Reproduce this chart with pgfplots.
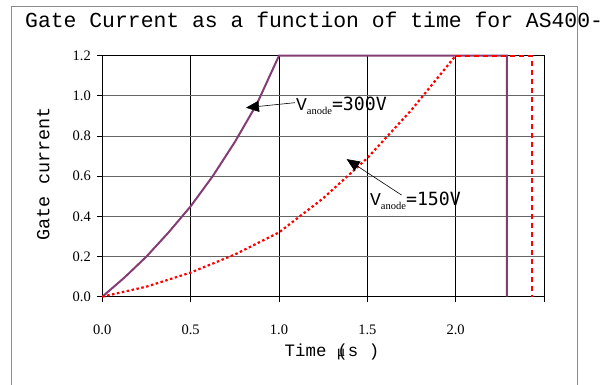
\documentclass[border=0pt]{standalone}
\usepackage{fontspec}
\usepackage{pgfplots}
\pgfplotsset{compat=1.18}
\usetikzlibrary{arrows.meta}
\setmainfont{Liberation Serif}
\newfontfamily\mono{Liberation Mono}
\newfontfamily\dmono{DejaVu Sans Mono}
\definecolor{plum}{HTML}{843C74}
\definecolor{framegray}{HTML}{8C8C8C}

% V_anode label
\newcommand{\vanode}[1]{{\mono\fontsize{18}{18}\selectfont V}\raisebox{-4.5pt}{\fontsize{10.5}{10.5}\selectfont anode}{\dmono\fontsize{18.2}{18.2}\selectfont =#1V}}

\begin{document}
\begin{tikzpicture}[x=1pt,y=1pt]
\path[use as bounding box] (0,0) rectangle (606,385);
\draw[framegray, line width=1pt] (11,-20) rectangle (577,378);
\node[anchor=base west, inner sep=0pt, font=\mono\fontsize{21.4}{21.4}\selectfont]
  at (25,357) {Gate Current as a function of time for AS400-};

\begin{axis}[
    scale only axis,
    width=441.7pt, height=241pt,
    at={(102.3pt,88.3pt)}, anchor=south west,
    xmin=0, xmax=2.5, ymin=0, ymax=1.2,
    xtick={0,0.5,1,1.5,2,2.5},
    xticklabels={0.0,0.5,1.0,1.5,2.0,},
    ytick={0,0.2,...,1.2},
    yticklabel style={/pgf/number format/fixed, /pgf/number format/fixed zerofill,
      /pgf/number format/precision=1, xshift=-3pt},
    /pgf/number format/assume math mode=true,
    tick label style={font=\fontsize{14.5}{14.5}\selectfont},
    xticklabel style={yshift=-20pt},
    tick align=outside,
    major tick length=5pt,
    xtick pos=bottom, ytick pos=left,
    grid=major,
    major x grid style={black, line width=0.8pt},
    major y grid style={black!60, line width=0.8pt},
    axis line style={black, line width=1pt},
    tick style={black, line width=0.8pt},
    clip=false,
    xlabel={\mono\fontsize{17.4}{17.4}\selectfont Time~{\rmfamily\fontsize{16}{16}\selectfont μ}\kern-8pt(s~)},
    xlabel style={at={(axis description cs:0.52,0)}, anchor=base, yshift=-60pt},
    ylabel={\mono\fontsize{18.5}{18.5}\selectfont Gate current},
    ylabel style={at={(axis description cs:0,0.51)}, anchor=center, yshift=59pt},
]
% V_anode = 300 V
\addplot[plum, line width=2pt] coordinates {
  (0,0) (0.125,0.095) (0.25,0.2) (0.375,0.32) (0.5,0.45) (0.625,0.6)
  (0.75,0.77) (0.875,0.96) (1.0,1.2) (2.29,1.2) (2.29,0)
};
% V_anode = 150 V
\addplot[red, line width=2.2pt, dash pattern=on 2.5pt off 2.5pt] coordinates {
  (0,0) (0.25,0.05) (0.5,0.12) (0.75,0.21) (1.0,0.32) (1.25,0.49)
  (1.5,0.69) (1.75,0.93) (2.0,1.2)
};
\addplot[red, line width=2.2pt, dash pattern=on 5pt off 4pt] coordinates {
  (2.0,1.2) (2.43,1.2) (2.43,0)
};

\draw[black, line width=0.6pt, -{Triangle[length=13pt,width=11pt]}]
  (axis cs:1.09,0.966) -- (axis cs:0.813,0.941);
\node[anchor=west, inner sep=0pt] at (axis cs:1.096,0.95) {\vanode{300}};
\draw[black, line width=0.6pt, -{Triangle[length=13pt,width=11pt]}]
  (axis cs:1.694,0.506) -- (axis cs:1.383,0.685);
\node[anchor=west, inner sep=0pt] at (axis cs:1.515,0.477) {\vanode{150}};
\end{axis}
\end{tikzpicture}
\end{document}
